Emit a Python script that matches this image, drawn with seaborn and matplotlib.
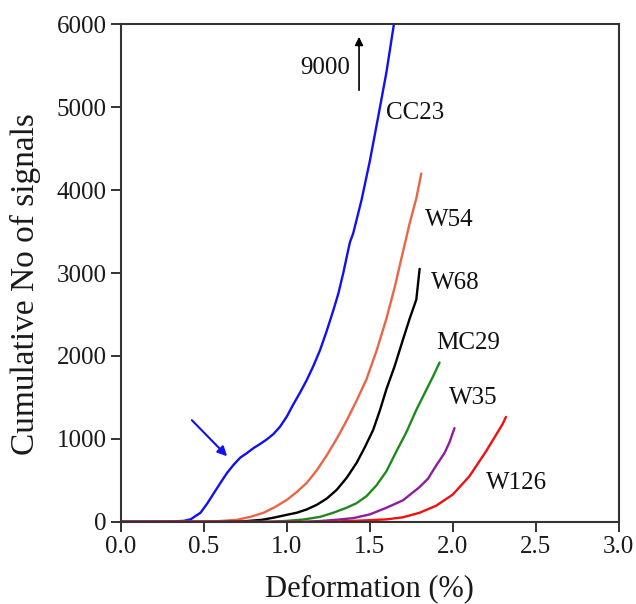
import numpy as np
import pandas as pd
import matplotlib
matplotlib.use("Agg")
import matplotlib.pyplot as plt
import seaborn as sns

# ---- data ----
cc23_x = [0.0, 0.3, 0.38, 0.42, 0.48, 0.52, 0.56, 0.6, 0.64, 0.68, 0.72, 0.76, 0.8, 0.84, 0.88,
          0.92, 0.96, 1.0, 1.04, 1.08, 1.12, 1.16, 1.2, 1.24, 1.28, 1.31, 1.34, 1.37, 1.38,
          1.4, 1.45, 1.5, 1.55, 1.6, 1.645]
cc23_y = [0, 3, 12, 30, 110, 220, 345, 470, 590, 690, 775, 830, 890, 940, 995,
          1060, 1150, 1270, 1420, 1560, 1710, 1880, 2070, 2300, 2550, 2750, 3000, 3280, 3370,
          3480, 3880, 4350, 4880, 5420, 6000]

w54_x = [0.0, 0.5, 0.6, 0.7, 0.78, 0.86, 0.93, 1.0, 1.06, 1.12, 1.18, 1.24, 1.3, 1.36, 1.42,
         1.48, 1.54, 1.6, 1.65, 1.7, 1.74, 1.78, 1.81]
w54_y = [0, 3, 10, 25, 60, 110, 180, 265, 360, 470, 620, 800, 1000, 1220, 1460,
         1720, 2060, 2450, 2830, 3260, 3600, 3900, 4200]

w68_x = [0.0, 0.6, 0.75, 0.85, 0.92, 1.0, 1.06, 1.12, 1.18, 1.24, 1.3, 1.36, 1.42, 1.47,
         1.52, 1.56, 1.6, 1.65, 1.7, 1.74, 1.78, 1.8]
w68_y = [0, 0, 8, 25, 50, 85, 110, 150, 205, 280, 385, 530, 710, 900,
         1108, 1340, 1600, 1880, 2200, 2450, 2680, 3050]

mc29_x = [0.0, 0.9, 1.0, 1.1, 1.2, 1.28, 1.36, 1.42, 1.48, 1.54, 1.6, 1.66, 1.72, 1.78,
          1.84, 1.88, 1.92]
mc29_y = [0, 0, 12, 28, 60, 110, 170, 225, 310, 440, 610, 850, 1080, 1350,
          1590, 1750, 1920]

w35_x = [0.0, 1.1, 1.2, 1.3, 1.4, 1.5, 1.6, 1.7, 1.8, 1.85, 1.9, 1.95, 1.98, 2.01]
w35_y = [0, 0, 10, 25, 45, 90, 170, 260, 420, 520, 680, 830, 960, 1130]

w126_x = [0.0, 1.2, 1.3, 1.4, 1.5, 1.6, 1.7, 1.8, 1.9, 2.0, 2.1, 2.2, 2.3, 2.32]
w126_y = [0, 0, 5, 12, 20, 30, 55, 110, 195, 330, 550, 850, 1180, 1265]

series_names = ["CC23", "W54", "W68", "MC29", "W35", "W126"]
series_x = [cc23_x, w54_x, w68_x, mc29_x, w35_x, w126_x]
series_y = [cc23_y, w54_y, w68_y, mc29_y, w35_y, w126_y]
colors = ["#1010F0", "#EC6446", "#000000", "#1E8A1E", "#8A1E9E", "#F01010"]

x_ticks = [0.0, 0.5, 1.0, 1.5, 2.0, 2.5, 3.0]
y_ticks = [0, 1000, 2000, 3000, 4000, 5000, 6000]

# curve labels: (text, x, y)
label_pos = {"CC23": (1.596, 4930), "W54": (1.83, 3640), "W68": (1.866, 2880),
             "MC29": (1.902, 2155), "W35": (1.976, 1490), "W126": (2.2, 470)}

frames = []
for n, xs, ys in zip(series_names, series_x, series_y):
    frames.append(pd.DataFrame({"x": xs, "y": ys, "sample": n}))
df = pd.concat(frames, ignore_index=True)

sns.set_style("ticks")
plt.rcParams["font.family"] = ["Liberation Serif", "DejaVu Serif"]

fig = plt.figure(figsize=(6.36, 6.04), dpi=100)
ax = fig.add_axes([0.190, 0.136, 0.783, 0.824])

sns.lineplot(data=df, x="x", y="y", hue="sample", palette=dict(zip(series_names, colors)),
             hue_order=series_names, legend=False, linewidth=1.7, ax=ax,
             estimator=None, sort=False)

ax.set_xlim(0, 3.0)
ax.set_ylim(0, 6000)
ax.set_xticks(x_ticks)
ax.set_xticklabels([f"{t:.1f}" for t in x_ticks])
ax.set_yticks(y_ticks)
ax.set_yticklabels([str(t) for t in y_ticks])
ax.tick_params(axis="both", direction="out", length=7, width=1.3, labelsize=18,
               colors="#222222", labelcolor="#1a1a1a", pad=3)
for s in ax.spines.values():
    s.set_linewidth(1.5)
    s.set_color("#333333")
    s.set_visible(True)

ax.set_xlabel("Deformation (%)", fontsize=22, color="#1a1a1a")
ax.set_ylabel("Cumulative No of signals", fontsize=24, color="#1a1a1a")
ax.xaxis.set_label_coords(0.5, -0.105)
ax.yaxis.set_label_coords(-0.16, 0.478)

for n in series_names:
    tx, ty = label_pos[n]
    ax.text(tx, ty, n, fontsize=18, ha="left", va="center", color="#111111")

# 9000 annotation with upward arrow
ax.text(1.23, 5470, "9000", fontsize=18, ha="center", va="center", color="#111111")
ax.annotate("", xy=(1.435, 5880), xytext=(1.435, 5170),
            arrowprops=dict(arrowstyle="-|>", color="black", lw=1.2, mutation_scale=12))

# blue arrow pointing to the CC23 knee
ax.annotate("", xy=(0.652, 767), xytext=(0.416, 1250),
            arrowprops=dict(arrowstyle="-|>", color="#1010F0", lw=1.5, mutation_scale=14))

fig.savefig("out.png", dpi=100)
